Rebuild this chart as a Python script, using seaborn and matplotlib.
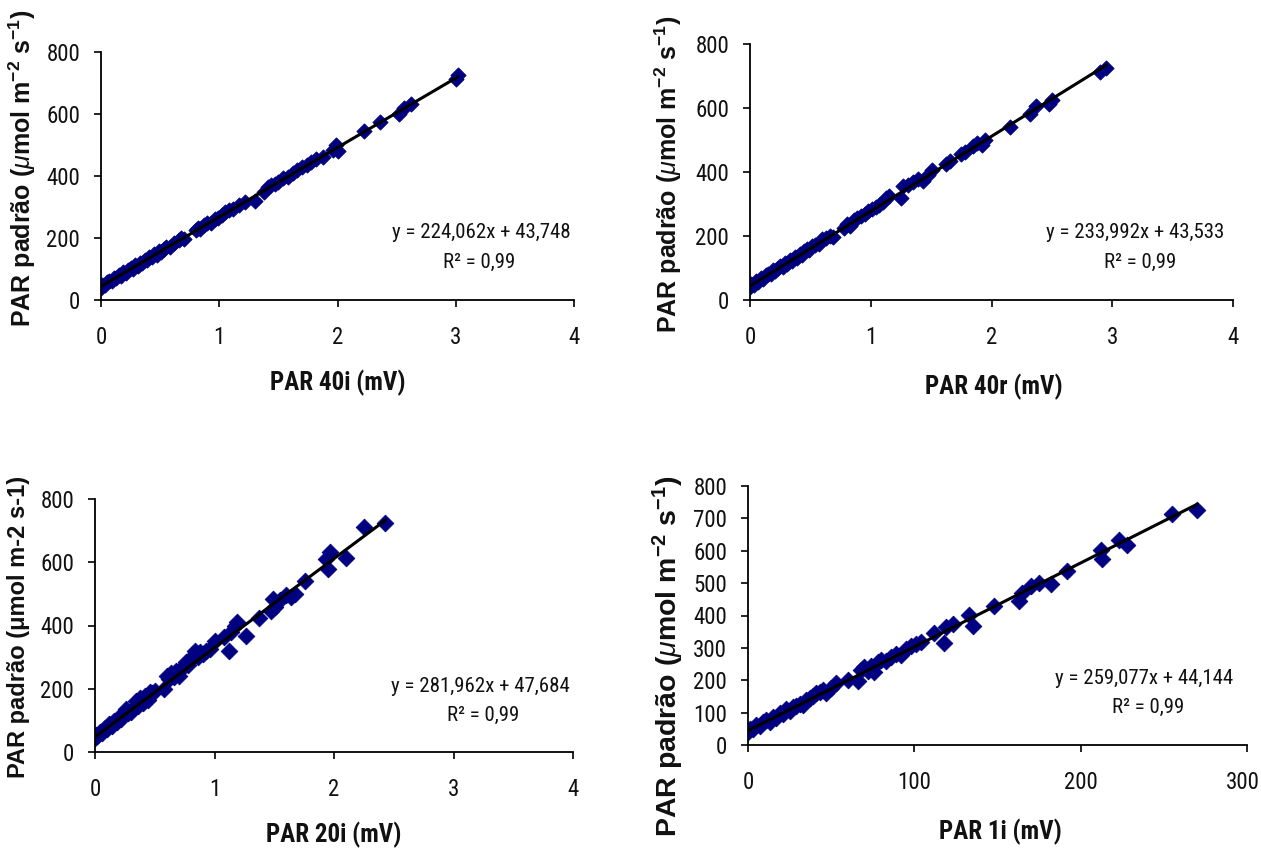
import matplotlib
matplotlib.use("Agg")
import matplotlib.pyplot as plt
import seaborn as sns
from matplotlib import font_manager as fm
from matplotlib.transforms import Bbox, TransformedBbox, ScaledTranslation

# ---------------- data ----------------
x_40i = [0.00, 0.01, 0.03, 0.05, 0.07, 0.09, 0.11, 0.13, 0.15, 0.17, 0.19, 0.21, 0.23, 0.25,
         0.27, 0.29, 0.31, 0.33, 0.35, 0.37, 0.39, 0.41, 0.43, 0.45, 0.47, 0.49, 0.51, 0.53,
         0.55, 0.58, 0.62, 0.66, 0.68, 0.70, 0.80, 0.82, 0.84, 0.87, 0.90, 0.93, 0.96, 0.99,
         1.02, 1.05, 1.08, 1.12, 1.17, 1.22, 1.30, 1.38, 1.41, 1.44, 1.47, 1.50, 1.54, 1.58,
         1.62, 1.66, 1.70, 1.74, 1.78, 1.82, 1.88, 1.96, 1.99, 2.00, 2.22, 2.36, 2.52, 2.56,
         2.62, 3.00, 3.02]
y_40i = [40, 50, 48, 58, 62, 60, 72, 70, 80, 78, 90, 88, 98, 102,
         100, 112, 110, 120, 118, 130, 128, 140, 138, 148, 146, 158, 155, 166,
         170, 172, 185, 195, 200, 196, 225, 232, 228, 242, 248, 250, 262, 263,
         275, 285, 290, 292, 308, 315, 320, 350, 365, 370, 375, 382, 392, 398,
         410, 418, 428, 435, 446, 455, 462, 485, 500, 480, 545, 575, 600, 620,
         632, 712, 725]

x_40r = [0.00, 0.01, 0.03, 0.05, 0.07, 0.09, 0.11, 0.13, 0.15, 0.17, 0.19, 0.21, 0.23, 0.25,
         0.27, 0.29, 0.31, 0.33, 0.35, 0.37, 0.39, 0.41, 0.43, 0.45, 0.47, 0.49, 0.51, 0.54,
         0.57, 0.60, 0.63, 0.66, 0.69, 0.78, 0.80, 0.83, 0.86, 0.89, 0.92, 0.95, 0.98, 1.01,
         1.04, 1.07, 1.10, 1.13, 1.15, 1.25, 1.27, 1.31, 1.35, 1.39, 1.43, 1.47, 1.51, 1.62,
         1.66, 1.75, 1.78, 1.85, 1.88, 1.92, 1.95, 2.15, 2.32, 2.37, 2.48, 2.50, 2.90, 2.95]
y_40r = [42, 50, 48, 58, 57, 68, 66, 78, 82, 80, 95, 90, 100, 105,
         104, 115, 112, 125, 122, 135, 132, 145, 140, 152, 158, 155, 168, 172,
         175, 190, 195, 200, 198, 225, 238, 232, 250, 255, 262, 270, 278, 285,
         290, 298, 305, 318, 325, 318, 355, 358, 368, 378, 372, 390, 405, 425,
         435, 455, 462, 480, 490, 485, 500, 540, 580, 605, 612, 625, 712, 725]

x_20i = [0.00, 0.01, 0.02, 0.04, 0.06, 0.08, 0.10, 0.12, 0.14, 0.16, 0.18, 0.20, 0.22, 0.24,
         0.26, 0.28, 0.30, 0.32, 0.34, 0.36, 0.38, 0.40, 0.42, 0.44, 0.46, 0.48, 0.50, 0.58,
         0.60, 0.62, 0.64, 0.66, 0.68, 0.70, 0.72, 0.74, 0.76, 0.78, 0.80, 0.82, 0.84, 0.86,
         0.88, 0.90, 0.93, 0.96, 1.00, 1.08, 1.12, 1.14, 1.17, 1.19, 1.26, 1.37, 1.47, 1.49,
         1.51, 1.55, 1.60, 1.64, 1.67, 1.76, 1.93, 1.95, 1.97, 2.10, 2.25, 2.43]
y_20i = [45, 55, 50, 62, 60, 75, 72, 88, 82, 98, 95, 110, 105, 120,
         135, 122, 128, 135, 160, 145, 170, 155, 178, 165, 190, 185, 192, 200,
         240, 230, 250, 238, 255, 240, 262, 270, 285, 275, 295, 305, 320, 300,
         315, 310, 320, 325, 350, 365, 320, 380, 400, 410, 368, 425, 445, 485,
         460, 480, 495, 490, 500, 540, 610, 580, 632, 615, 710, 725]

x_1i = [0, 1, 3, 5, 7, 9, 11, 13, 15, 17, 19, 21, 23, 25, 27, 29, 31, 33, 35, 37, 39, 41,
        43, 45, 47, 50, 53, 60, 66, 68, 70, 72, 74, 76, 78, 80, 83, 86, 89, 92, 95, 98,
        101, 104, 112, 118, 119, 123, 133, 135, 148, 163, 165, 170, 175, 182, 192, 212,
        213, 223, 228, 255, 270]
y_1i = [40, 50, 48, 62, 58, 72, 78, 72, 88, 82, 100, 95, 110, 105, 118, 122, 128, 125,
        140, 145, 150, 160, 165, 170, 162, 175, 192, 200, 198, 232, 240, 228, 245, 225,
        255, 262, 258, 272, 282, 278, 298, 305, 312, 318, 345, 315, 365, 375, 402, 368,
        428, 445, 470, 490, 500, 498, 538, 602, 575, 632, 618, 712, 725]

slopes = [224.062, 233.992, 281.962, 2.59077]
intercepts = [43.748, 43.533, 47.684, 44.144]
equations = ["y = 224,062x + 43,748", "y = 233,992x + 43,533",
             "y = 281,962x + 47,684", "y = 259,077x + 44,144"]
r2_label = "R² = 0,99"
x_labels = ["PAR 40i (mV)", "PAR 40r (mV)", "PAR 20i (mV)", "PAR 1i (mV)"]
y_label_sup = r"PAR padrão ($\mu$mol m$^{-2}$ s$^{-1}$)"
y_label_plain = "PAR padrão (μmol m-2 s-1)"
x_ticks_mv = [0, 1, 2, 3, 4]
x_ticks_1i = [0, 100, 200, 300]
y_ticks_200 = [0, 200, 400, 600, 800]
y_ticks_100 = [0, 100, 200, 300, 400, 500, 600, 700, 800]

# ---------------- style ----------------
sns.set_theme(style="ticks")
plt.rcParams["font.family"] = ["Liberation Sans", "DejaVu Sans"]
plt.rcParams["mathtext.fontset"] = "custom"
plt.rcParams["mathtext.rm"] = "Liberation Sans:bold"
plt.rcParams["mathtext.bf"] = "Liberation Sans:bold"
plt.rcParams["mathtext.it"] = "Liberation Sans:italic"


def _is_bold(w):
    if isinstance(w, str):
        return w.lower() in ("bold", "heavy", "black", "demibold", "semibold", "extra bold")
    return w >= 600


def _is_cond(f):
    n = (f.name + " " + f.fname).lower()
    if "narrow" in n or "condensed" in n or "cond" in n:
        return True
    st = f.stretch
    if isinstance(st, str):
        return "condensed" in st
    return st < 500


def find_narrow(bold):
    prefs = ["liberation sans narrow", "liberationsansnarrow", "robotocondensed", "roboto condensed",
             "opensans-cond", "open sans condensed", "dejavusanscondensed", "dejavu sans"]
    cands = [f for f in fm.fontManager.ttflist
             if _is_cond(f) and f.style == "normal" and _is_bold(f.weight) == bold]
    for key in prefs:
        for f in cands:
            s = (f.name + " " + f.fname).lower()
            if key in s or key in s.replace(" ", ""):
                return fm.FontProperties(fname=f.fname)
    if cands:
        return fm.FontProperties(fname=cands[0].fname)
    return fm.FontProperties(family="Liberation Sans", weight="bold" if bold else "normal")


NARROW_REG = find_narrow(False)
NARROW_BOLD = find_narrow(True)

W, H = 1261, 848
fig = plt.figure(figsize=(W / 100, H / 100), dpi=100)
fig.patch.set_facecolor("white")

MARK = "#000080"

panels = [
    dict(box=(101, 52, 574, 300), x=x_40i, y=y_40i, xt=x_ticks_mv, yt=y_ticks_200, xlim=(0, 4),
         ylab=y_label_sup, ylab_size=18, ylab_pos=(22, 168),
         xlab_pos=(338, 383), eq_pos=(481, 233), r2_pos=(479, 262), ms=60, clip=None),
    dict(box=(750, 44, 1233, 300), x=x_40r, y=y_40r, xt=x_ticks_mv, yt=y_ticks_200, xlim=(0, 4),
         ylab=y_label_sup, ylab_size=18, ylab_pos=(668, 174),
         xlab_pos=(994, 387), eq_pos=(1135, 232), r2_pos=(1140, 262), ms=60, clip=None),
    dict(box=(95, 499, 573, 752), x=x_20i, y=y_20i, xt=x_ticks_mv, yt=y_ticks_200, xlim=(0, 4),
         ylab=y_label_plain, ylab_size=17, ylab_pos=(19, 627),
         xlab_pos=(334, 835), eq_pos=(480, 686), r2_pos=(483, 715), ms=72, clip=None),
    dict(box=(748, 486, 1247, 745), x=x_1i, y=y_1i, xt=x_ticks_1i, yt=y_ticks_100, xlim=(0, 300),
         ylab=y_label_sup, ylab_size=20.5, ylab_pos=(668, 656),
         xlab_pos=(1000, 832), eq_pos=(1144, 678), r2_pos=(1148, 707), ms=72, clip=474),
]

for i, p in enumerate(panels):
    L, T, R, B = p["box"]
    ax = fig.add_axes([L / W, 1 - B / H, (R - L) / W, (B - T) / H])
    ax.set_facecolor("white")

    def to_ax(px, py):
        return ((px - L) / (R - L), (B - py) / (B - T))

    sns.scatterplot(x=p["x"], y=p["y"], ax=ax, marker="D", s=p["ms"], color=MARK,
                    edgecolor=MARK, linewidth=0.6, zorder=2, legend=False)
    xs = [min(p["x"]), max(p["x"])]
    ys = [slopes[i] * v + intercepts[i] for v in xs]
    sns.lineplot(x=xs, y=ys, ax=ax, color="black", linewidth=2.2, zorder=3, legend=False)

    ax.set_xlim(*p["xlim"])
    ax.set_ylim(0, 800)
    ax.set_xticks(p["xt"])
    ax.set_yticks(p["yt"])
    tick_fp = NARROW_REG.copy()
    tick_fp.set_size(16.5)
    ax.set_xticklabels([str(t) for t in p["xt"]], fontproperties=tick_fp, color="#111111")
    ax.set_yticklabels([str(t) for t in p["yt"]], fontproperties=tick_fp, color="#111111")
    sns.despine(ax=ax)
    for s in ("left", "bottom"):
        ax.spines[s].set_color("black")
        ax.spines[s].set_linewidth(1.3)
    ax.tick_params(axis="both", direction="out", length=5, width=1.2, color="black")
    ax.tick_params(axis="x", pad=14)
    ax.tick_params(axis="y", pad=10)
    ax.grid(False)
    if i == 3:
        last = ax.get_xticklabels()[-1]
        last.set_transform(last.get_transform() + ScaledTranslation(-4 / 100, 0, fig.dpi_scale_trans))

    xl_fp = NARROW_BOLD.copy()
    xl_fp.set_size(18)
    ax.set_xlabel(x_labels[i], fontproperties=xl_fp, color="#111111")
    ax.xaxis.set_label_coords(*to_ax(*p["xlab_pos"]))
    ax.xaxis.label.set_verticalalignment("center")

    ax.set_ylabel(p["ylab"], fontsize=p["ylab_size"], fontweight="bold", color="#111111",
                  family=["Liberation Sans", "DejaVu Sans"])
    ax.yaxis.set_label_coords(*to_ax(*p["ylab_pos"]))
    ax.yaxis.label.set_verticalalignment("center")
    ax.yaxis.label.set_horizontalalignment("center")
    if p["clip"] is not None:
        lab = ax.yaxis.label
        lab.set_clip_on(True)
        lab.set_clip_box(TransformedBbox(Bbox([[0, 0], [1, 1 - p["clip"] / H]]), fig.transFigure))

    eq_fp = NARROW_REG.copy()
    eq_fp.set_size(15)
    ax.text(*to_ax(*p["eq_pos"]), equations[i], transform=ax.transAxes, ha="center",
            va="center", fontproperties=eq_fp, color="#111111")
    ax.text(*to_ax(*p["r2_pos"]), r2_label, transform=ax.transAxes, ha="center",
            va="center", fontproperties=eq_fp, color="#111111")

fig.savefig("out.png", dpi=100, facecolor="white")
